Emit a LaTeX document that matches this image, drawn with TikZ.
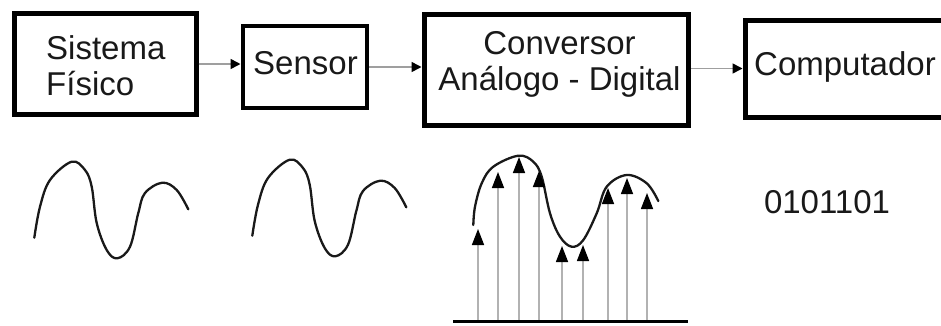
\documentclass[tikz,border=0pt]{standalone}
\usepackage{fontspec}
\setmainfont{Liberation Sans}
\usetikzlibrary{arrows.meta}
\tikzset{
  bloco/.style={draw=black,line width=5pt,inner sep=0pt,outer sep=auto},
  rotulo/.style={inner sep=0pt,text=black!90,font=\fontsize{33}{36}\selectfont},
  seta/.style={draw=gray!75,line width=1.6pt,-{Triangle[length=10pt,width=10pt,color=black]}},
  onda/.style={draw=black!90,line width=2.3pt,line cap=round},
  amostra/.style={draw=gray!60,line width=1.5pt,-{Triangle[length=16pt,width=12pt,color=black]}}
}
\begin{document}
\begin{tikzpicture}[x=1pt,y=-1pt]
\useasboundingbox (0,0) rectangle (941,325);
\clip (0,0) rectangle (941,325);
% blocos
\node[bloco,minimum width=181.5pt,minimum height=101pt] (sis) at (105.25,64) {};
\node[bloco,line width=4pt,minimum width=124.5pt,minimum height=82pt] (sen) at (304.75,67) {};
\node[bloco,minimum width=264.5pt,minimum height=111pt] (conv) at (556.25,70) {};
\node[bloco,minimum width=215pt,minimum height=97pt] (comp) at (852.5,68.5) {};
\node[rotulo,anchor=base west,align=left] (tsis) at (46,95) {Sistema\\Físico};
\node[rotulo,anchor=base] (tsen) at (305.5,74) {Sensor};
\node[rotulo,anchor=base,align=center] (tconv) at (559.5,90) {Conversor\\Análogo - Digital};
\node[rotulo,anchor=base] (tcomp) at (845,75.7) {Computador};
\draw[seta] (sis.east) -- (sis.east -| sen.west);
\draw[seta] (sen.east) -- (sen.east -| conv.west);
\draw[seta] (conv.east |- comp.west) -- (comp.west);
% sinais
\draw[onda] plot[smooth,tension=0.6] coordinates {(34.3,237.7) (40,206.7) (50,180) (71.7,161.7) (85,170) (91.7,186.7) (96.7,223) (106.7,250) (117.3,258.3) (130,246.7) (138.3,213) (145,193) (162.3,182.7) (176.7,190) (188.3,209.3)};
\draw[onda,shift={(218,-2)}] plot[smooth,tension=0.6] coordinates {(34.3,237.7) (40,206.7) (50,180) (71.7,161.7) (85,170) (91.7,186.7) (96.7,223) (106.7,250) (117.3,258.3) (130,246.7) (138.3,213) (145,193) (162.3,182.7) (176.7,190) (188.3,209.3)};
\draw[onda] plot[smooth,tension=0.6] coordinates {(473.3,225) (475,206.7) (481.7,183.3) (493.3,166.7) (518.3,155.7) (533.3,161.7) (541.7,176.7) (550,213.3) (560,236.7) (571.7,246.7) (583.3,240) (596.7,213.3) (606.7,186.7) (626.7,175) (646.7,183.3) (658.3,201)};
\foreach \x/\y in {478/229,498/172,519/157,539/171,562/246,583/245,608/188,627/178,647/193}
  \draw[amostra] (\x,321) -- (\x,\y);
\draw[black,line width=3.5pt] (453,321.5) -- (688,321.5);
\node[rotulo,anchor=base] (bits) at (827,213) {0101101};
\end{tikzpicture}
\end{document}
